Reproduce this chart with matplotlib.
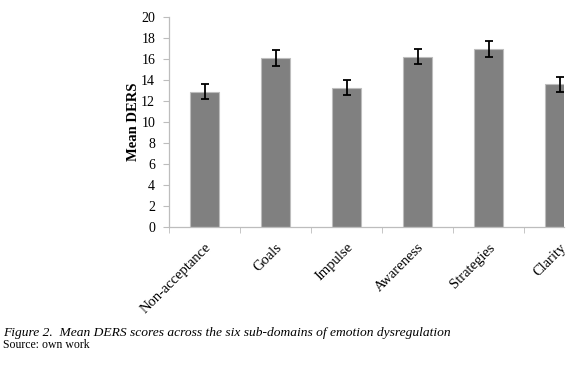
import matplotlib

matplotlib.use('Agg')
import matplotlib.pyplot as plt
import numpy as np

# DERS sub-domains, mean scores and error bar half-lengths
categories = ["Non-acceptance", "Goals", "Impulse", "Awareness", "Strategies", "Clarity"]
mean_scores = [12.9, 16.15, 13.3, 16.25, 17.0, 13.6]
errors = [0.72, 0.75, 0.72, 0.72, 0.75, 0.72]
y_ticks = [0, 2, 4, 6, 8, 10, 12, 14, 16, 18, 20]

caption = "Figure 2.  Mean DERS scores across the six sub-domains of emotion dysregulation"
source = "Source: own work"

plt.rcParams['font.family'] = ['Liberation Serif', 'DejaVu Serif']

fig = plt.figure(figsize=(5.8, 3.73), dpi=100)
ax = fig.add_axes([0.2914, 0.3914, 0.6810, 0.5622])

x = np.arange(len(categories))
grid_color = "#bdbdbd"

ax.bar(x, mean_scores, width=0.4, color="#808080", edgecolor=grid_color,
       linewidth=0.8, zorder=2)
ax.errorbar(x, mean_scores, yerr=errors, fmt="none", ecolor="black",
            elinewidth=1.3, capsize=3, capthick=1.3, zorder=3)

ax.set_xlim(-0.5, 5.063)
ax.set_ylim(0, 20)
ax.set_yticks(y_ticks)
ax.tick_params(axis="y", direction="out", length=4, color=grid_color,
               labelsize=10, pad=6)

# labels sit at category centres, tick marks between categories
ax.set_xticks(x)
ax.set_xticklabels(categories, rotation=45, ha="right", rotation_mode="anchor")
ax.tick_params(axis="x", which="major", length=0, labelsize=10.5, pad=10)
ax.set_xticks(np.arange(-0.5, len(categories) - 0.5, 1.0), minor=True)
ax.tick_params(axis="x", which="minor", direction="out", length=4, color=grid_color)

for side in ["top", "right"]:
    ax.spines[side].set_visible(False)
for side in ["left", "bottom"]:
    ax.spines[side].set_color(grid_color)
    ax.spines[side].set_linewidth(0.9)

ax.set_ylabel("Mean DERS", fontsize=10.5, fontweight="bold", labelpad=1)

fig.text(0.005, 0.099, caption, fontsize=9.7, style="italic", ha="left", va="baseline")
fig.text(0.005, 0.068, source, fontsize=8.5, ha="left", va="baseline")

fig.savefig("out.png", dpi=100)
